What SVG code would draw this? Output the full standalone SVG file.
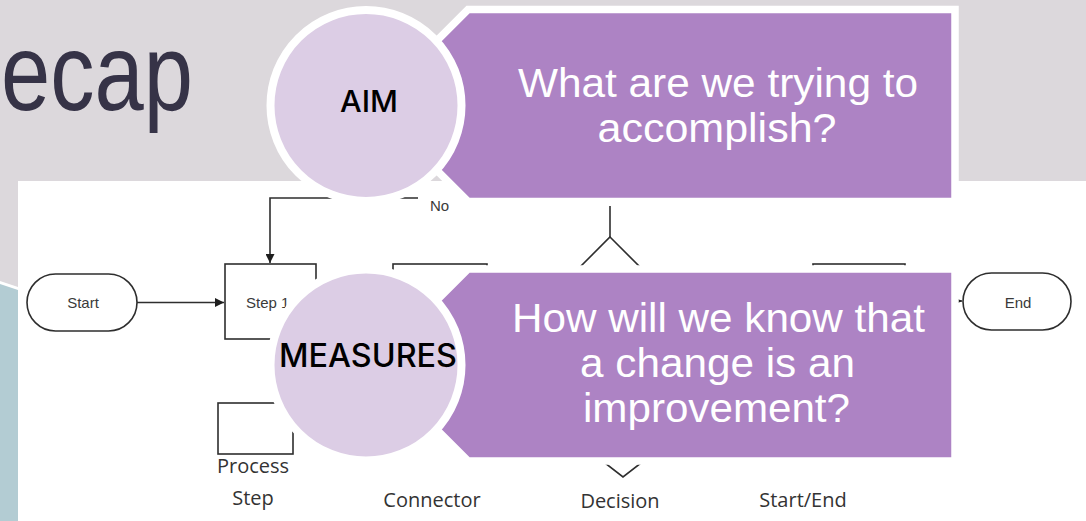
<svg xmlns="http://www.w3.org/2000/svg" width="1086" height="521" viewBox="0 0 1086 521">
<defs>
<style>
.bg{fill:#DCD8DC}
.panel{fill:#FFFFFF}
.fl{fill:none;stroke:#2E2E2E;stroke-width:1.6}
.ft{font-family:"Liberation Sans",Arial,sans-serif;font-size:15px;fill:#3A3A3A}
.lg{font-family:"Open Sans","Liberation Sans",sans-serif;font-size:20px;fill:#333333;text-anchor:middle}
.box{fill:#AD83C4;stroke:#FFFFFF;stroke-width:7.5;stroke-linejoin:miter}
.circ{fill:#DCCDE5;stroke:#FFFFFF;stroke-width:8}
.qt{font-family:"Liberation Sans",Arial,sans-serif;font-size:40px;fill:#FFFFFF;text-anchor:middle}
.ct{font-family:"Inter","Liberation Sans",sans-serif;font-weight:500;fill:#000000;text-anchor:middle}
</style>
<marker id="arr" viewBox="0 0 10 10" refX="10" refY="5" markerWidth="7" markerHeight="7" markerUnits="userSpaceOnUse" orient="auto">
<path d="M0,0 L10,5 L0,10 Z" fill="#1E1E1E"/>
</marker>
<marker id="arrL" viewBox="0 0 10 10" refX="10" refY="5" markerWidth="9" markerHeight="9" markerUnits="userSpaceOnUse" orient="auto">
<path d="M0,0 L10,5 L0,10 Z" fill="#1E1E1E"/>
</marker>
</defs>

<rect class="bg" x="0" y="0" width="1086" height="521"/>
<g id="title">
<text x="1" y="110" font-family="'Liberation Sans',Arial,sans-serif" font-weight="400" font-size="110" fill="#363347" textLength="192" lengthAdjust="spacingAndGlyphs">ecap</text>
</g>
<g id="side-band">
<polygon points="0,281 18,287 18,521 0,521" fill="#FFFFFF"/>
<polygon points="0,284 18,290 18,521 0,521" fill="#B3CCD3"/>
</g>
<rect class="panel" x="18" y="181" width="1068" height="340"/>

<g id="flow-start">
<rect class="fl" x="27" y="274" width="110" height="57" rx="28.5"/>
<text class="ft" x="83" y="308" text-anchor="middle" font-size="16">Start</text>
</g>
<g id="flow-step1">
<rect class="fl" x="225" y="264" width="91" height="75"/>
<text class="ft" x="246" y="308" font-size="16">Step 1</text>
</g>
<g id="flow-step2">
<rect class="fl" x="393" y="264" width="94" height="75"/>
</g>
<g id="flow-decision">
<polygon class="fl" points="610,237 675,302 610,367 545,302"/>
</g>
<g id="flow-step3">
<rect class="fl" x="813" y="264" width="92" height="75"/>
</g>
<g id="flow-end">
<rect class="fl" x="963" y="273" width="108" height="57" rx="28.5"/>
<text class="ft" x="1018" y="308" text-anchor="middle" font-size="16">End</text>
</g>
<g id="no-label">
<text class="ft" x="430" y="211" font-size="14">No</text>
</g>

<g id="legend">
<g id="legend-process">
<rect class="fl" x="218" y="403" width="75" height="51"/>
<text class="lg" x="253" y="473">Process</text>
<text class="lg" x="253" y="505">Step</text>
</g>
<g id="legend-connector">
<text class="lg" x="432" y="507">Connector</text>
</g>
<g id="legend-decision">
<polygon class="fl" points="623,415 663,446 623,477 583,446"/>
<text class="lg" x="620" y="508">Decision</text>
</g>
<g id="legend-startend">
<text class="lg" x="803" y="507">Start/End</text>
</g>
</g>

<g id="connectors">
<line class="fl" x1="137" y1="302.5" x2="224" y2="302.5" marker-end="url(#arrL)"/>
<polyline class="fl" points="418,198 270,198 270,263" marker-end="url(#arrL)"/>
<line class="fl" x1="610" y1="206" x2="610" y2="237"/>
<line class="fl" x1="905" y1="301" x2="962" y2="301" marker-end="url(#arr)"/>
</g>

<g id="aim-box">
<polygon class="box" points="468,9.5 955,9.5 955,201.5 468,201.5 372,105.5"/>
<text class="qt" x="718" y="97" textLength="400" lengthAdjust="spacingAndGlyphs">What are we trying to</text>
<text class="qt" x="717" y="142" textLength="239" lengthAdjust="spacingAndGlyphs">accomplish?</text>
</g>
<g id="aim-circle">
<circle class="circ" cx="366" cy="105.5" r="95.5"/>
<text class="ct" x="369" y="112" font-size="30" textLength="58" lengthAdjust="spacingAndGlyphs">AIM</text>
</g>

<g id="measures-box">
<polygon class="box" points="468,269 955,269 955,461 468,461 372,365"/>
<text class="qt" x="718.5" y="332" textLength="413" lengthAdjust="spacingAndGlyphs">How will we know that</text>
<text class="qt" x="717.5" y="377" textLength="275" lengthAdjust="spacingAndGlyphs">a change is an</text>
<text class="qt" x="716.5" y="422" textLength="267" lengthAdjust="spacingAndGlyphs">improvement?</text>
</g>
<g id="measures-circle">
<circle class="circ" cx="366" cy="365" r="95.5"/>
<text class="ct" x="368" y="367" font-size="32" textLength="178" lengthAdjust="spacingAndGlyphs">MEASURES</text>
</g>
</svg>
